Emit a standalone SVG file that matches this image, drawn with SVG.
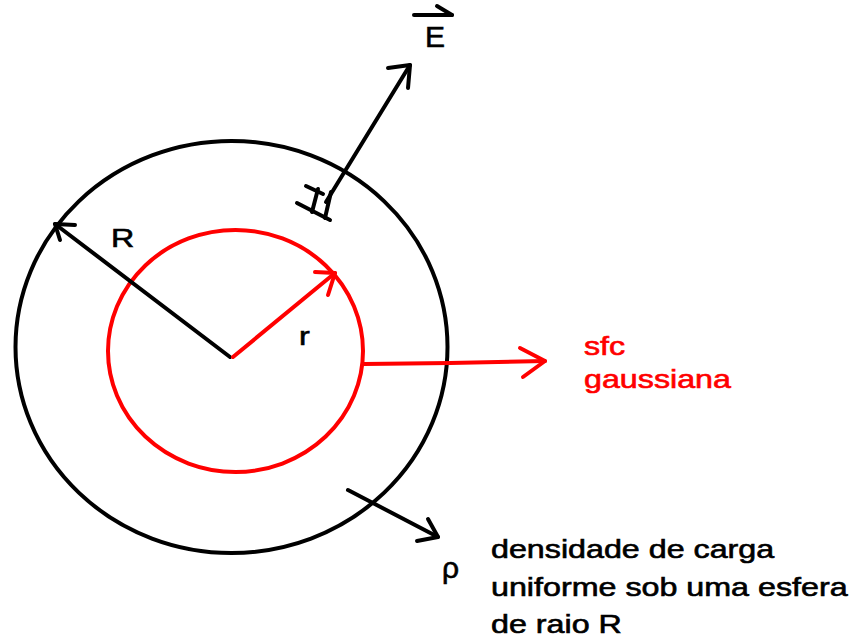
<svg xmlns="http://www.w3.org/2000/svg" width="855" height="639" viewBox="0 0 855 639">
<style>
.t{font-family:"Liberation Sans",Arial,sans-serif;font-size:25px;fill:#000;stroke:#000;stroke-width:0.6}
.red{fill:#ff0000;stroke:#ff0000}
.k{stroke:#000;stroke-width:4;fill:none;stroke-linecap:round;stroke-linejoin:round}
.r{stroke:#ff0000;stroke-width:4;fill:none;stroke-linecap:round;stroke-linejoin:round}
</style>
<rect width="855" height="639" fill="#fff"/>
<g id="outer-sphere">
<ellipse class="k" cx="231.5" cy="347" rx="216" ry="206"/>
</g>
<g id="gaussian-surface">
<ellipse class="r" cx="235.5" cy="351" rx="127.5" ry="121"/>
</g>
<g id="connectors">
<g id="radius-R">
<line class="k" x1="230" y1="357" x2="55" y2="224"/>
<polyline class="k" points="75,225 55,224 60,240"/>
</g>
<g id="radius-r">
<line class="r" x1="233" y1="357" x2="335" y2="273"/>
<polyline class="r" points="315,272 335,273 328,295"/>
</g>
<g id="sfc-arrow">
<polyline class="r" points="364,364 450,363 545,361"/>
<polyline class="r" points="520,348 545,361 523,377"/>
</g>
<g id="E-arrow">
<line class="k" x1="326" y1="202" x2="410" y2="65"/>
<polyline class="k" points="388,68 410,65 408,88"/>
<line class="k" x1="297" y1="203" x2="330" y2="220"/>
<line class="k" x1="306" y1="186" x2="323" y2="194"/>
<line class="k" x1="318" y1="189" x2="312" y2="212"/>
<line class="k" x1="331" y1="192" x2="325" y2="218"/>
</g>
<g id="rho-arrow">
<line class="k" x1="348" y1="490" x2="438" y2="537"/>
<polyline class="k" points="428,519 438,537 417,541"/>
</g>
</g>
<g id="label-E">
<line class="k" x1="414" y1="15" x2="452" y2="15"/>
<line class="k" x1="437" y1="6" x2="452" y2="15"/>
<text class="t" style="font-size:30px" x="425" y="47">E</text>
</g>
<g id="label-R"><text class="t" transform="translate(111,247) scale(1.29,1)">R</text></g>
<g id="label-r"><text class="t" transform="translate(299,345) scale(1.29,1)">r</text></g>
<g id="label-sfc">
<text class="t red" transform="translate(584,355) scale(1.29,1)">sfc</text>
<text class="t red" transform="translate(584,388) scale(1.29,1)">gaussiana</text>
</g>
<g id="label-rho"><text class="t" style="font-size:30px" x="442" y="578">ρ</text></g>
<g id="label-density">
<text class="t" transform="translate(491,558) scale(1.29,1)">densidade de carga</text>
<text class="t" transform="translate(491,596) scale(1.29,1)">uniforme sob uma esfera</text>
<text class="t" transform="translate(491,633) scale(1.29,1)">de raio R</text>
</g>
</svg>
